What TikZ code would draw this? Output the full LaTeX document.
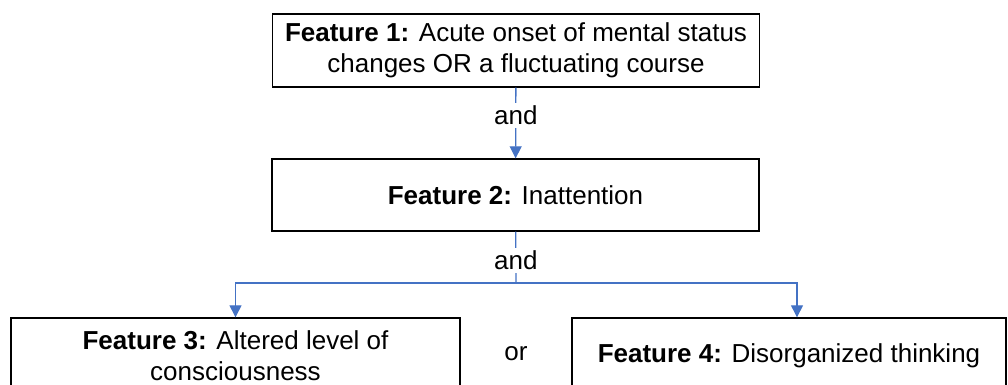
\documentclass[tikz,border=0pt]{standalone}
\usepackage{fontspec}
\setmainfont{Liberation Sans}
\usepackage{tikz}
\usetikzlibrary{arrows.meta,positioning}
\definecolor{linkblue}{HTML}{4472C4}

\begin{document}
\begin{tikzpicture}[x=1pt,y=-1pt,
  feature/.style={draw,line width=1.4pt,minimum height=76pt,inner sep=0pt,
    align=center,font=\fontsize{26}{31}\selectfont},
  link/.style={draw=linkblue,line width=1.3pt},
  arr/.style={link,-{Triangle[length=12pt,width=12pt]}},
  word/.style={fill=white,inner sep=3pt,font=\fontsize{26}{31}\selectfont}]
               \useasboundingbox (0,0) rectangle (1008,385);
               \node[feature, minimum width=487pt, minimum height=73pt] (f1) at (516,50.5)
                    {\textbf{Feature 1:} Acute onset of mental status\\changes OR a fluctuating course};
               \node[feature, minimum width=487pt, minimum height=72pt] (f2) at (515.5,195)
                    {\textbf{Feature 2:} Inattention};
               \node[feature, minimum width=449pt] (f3) at (235.5,356)
                    {\textbf{Feature 3:} Altered level of\\consciousness};
               \node[feature, minimum width=434pt] (f4) at (789,356)
                    {\textbf{Feature 4:} Disorganized thinking};
               \node[word] (or) at (516,354) {or};
               \coordinate (split) at (516,283);
		\path[arr] (f1) -- node[word, pos=0.39] {and} (f2);
		\path[link] (f2) -- node[word, pos=0.56] {and} (split);
		\path[arr] (split) -| (f3.north);
		\path[arr] (split) -| ([xshift=8pt]f4.north);
            \end{tikzpicture}
\end{document}
